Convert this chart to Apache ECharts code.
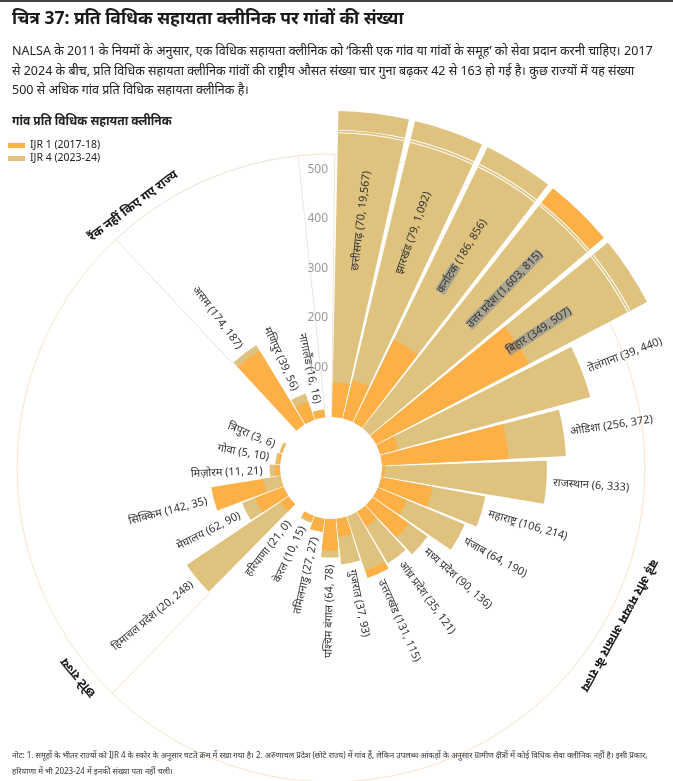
<!DOCTYPE html>
<html><head><meta charset="utf-8">
<script src="https://cdn.jsdelivr.net/npm/echarts@6/dist/echarts.min.js"></script>
<style>html,body{margin:0;padding:0;background:#fff}#c{width:673px;height:781px}</style>
</head><body><div id="c"></div>
<script>
// ---------------- data ----------------
const largeStates = ['छत्तीसगढ़','झारखंड','कर्नाटक','उत्तर प्रदेश','बिहार','तेलंगाना','ओडिशा','राजस्थान','महाराष्ट्र','पंजाब','मध्य प्रदेश','आंध्र प्रदेश','उत्तराखंड','गुजरात','पश्चिम बंगाल','तमिलनाडु','केरल','हरियाणा'];
const largeIJR1 = [70, 79, 186, 1603, 349, 39, 256, 6, 106, 64, 90, 35, 131, 37, 64, 27, 10, 21];
const largeIJR4 = [19567, 1092, 856, 815, 507, 440, 372, 333, 214, 190, 136, 121, 115, 93, 78, 27, 15, 0];
const smallStates = ['हिमाचल प्रदेश','मेघालय','सिक्किम','मिज़ोरम','गोवा','त्रिपुरा'];
const smallIJR1 = [20, 62, 142, 11, 5, 3];
const smallIJR4 = [248, 90, 35, 21, 10, 6];
const unrankedStates = ['असम','मणिपुर','नागालैंड'];
const unrankedIJR1 = [174, 39, 16];
const unrankedIJR4 = [187, 56, 16];
const radiusTicks = [100, 200, 300, 400, 500];
const groupNames = ['बड़े और मध्यम आकार के राज्य', 'छोटे राज्य', 'रैंक नहीं किए गए राज्य'];
const seriesNames = ['IJR 1 (2017-18)', 'IJR 4 (2023-24)'];

// ---------------- style / layout ----------------
const FONT = "'Noto Sans', 'Noto Sans Devanagari', sans-serif";
const C1 = '#FCB045', C4 = '#DEC27E';
const N = 29;                 // angular slots
const OFFSET0 = 0.7, OFFSET1 = 6.4;
const CAP = 500, TOP = 618, BREAK_AT = 580.5, RMAX = 620, RING = 531;
const BRK = [573, 2, 3.5, 2];
const LABEL_GAP = 14, INSIDE_R = 400, GROUP_R = 560;
const HL = 'rgba(125,140,158,0.55)';

function shown(v, other) {
  if (v <= CAP) return v;
  return (other > CAP && v < other) ? BREAK_AT : TOP;
}
function fmt(v) { return v.toLocaleString('en-US'); }

const slots0 = new Array(N).fill(null), slots1 = new Array(N).fill(null);
largeStates.forEach((n, i) => slots0[i] = {name: n, a: largeIJR1[i], b: largeIJR4[i]});
const smallStart = largeStates.length;
smallStates.forEach((n, i) => slots0[smallStart + i] = {name: n, a: smallIJR1[i], b: smallIJR4[i]});
const unrStart = smallStart + smallStates.length + 1;
unrankedStates.forEach((n, i) => slots1[unrStart + i] = {name: n, a: unrankedIJR1[i], b: unrankedIJR4[i]});

const highlight = {'कर्नाटक': 'name', 'उत्तर प्रदेश': 'all', 'बिहार': 'all'};

function barSeries(p, slots) {
  const back1 = [], back4 = [], front1 = [], front4 = [], bBase = [], bW = [], bT = [];
  slots.forEach(s => {
    if (s && s.b > 0) {
      const a = shown(s.a, s.b), b = shown(s.b, s.a);
      if (a > b) { back1.push(a); front4.push(b); back4.push('-'); front1.push('-'); }
      else { back4.push(b); front1.push(a); back1.push('-'); front4.push('-'); }
      const over = Math.max(s.a, s.b) > CAP;
      bBase.push(over ? BRK[0] : '-'); bW.push(over ? BRK[1] : '-'); bT.push(over ? BRK[2] : '-');
    } else {
      [back1, back4, front1, front4, bBase, bW, bT].forEach(arr => arr.push('-'));
    }
  });
  const common = {type: 'bar', coordinateSystem: 'polar', polarIndex: p, barGap: '-100%',
    barCategoryGap: '8%', silent: true, animation: false, z: 2};
  return [
    Object.assign({}, common, {name: seriesNames[0], data: back1, itemStyle: {color: C1}}),
    Object.assign({}, common, {name: seriesNames[1], data: back4, itemStyle: {color: C4}}),
    Object.assign({}, common, {name: seriesNames[0], data: front1, itemStyle: {color: C1}}),
    Object.assign({}, common, {name: seriesNames[1], data: front4, itemStyle: {color: C4}}),
    Object.assign({}, common, {stack: 'brk' + p, data: bBase, itemStyle: {color: 'rgba(0,0,0,0)'}}),
    Object.assign({}, common, {stack: 'brk' + p, data: bW, itemStyle: {color: '#fff'}}),
    Object.assign({}, common, {stack: 'brk' + p, data: bT, itemStyle: {color: 'rgba(0,0,0,0)'}}),
    Object.assign({}, common, {stack: 'brk' + p, data: bW, itemStyle: {color: '#fff'}})
  ];
}

function labelEntries(slots) {
  const out = [];
  slots.forEach((s, k) => {
    if (!s) return;
    const m = s.b > 0 ? Math.max(shown(s.a, s.b), shown(s.b, s.a)) : s.a;
    const inside = Math.max(s.a, s.b) > CAP;
    const nums = '(' + fmt(s.a) + ', ' + fmt(s.b) + ')';
    let text = s.name + ' ' + nums;
    const h = highlight[s.name];
    if (h === 'all') text = '{hl|' + text + '}';
    else if (h === 'name') text = '{hl|' + s.name + '} ' + nums;
    out.push({kind: 'state', k, r: inside ? INSIDE_R : m + LABEL_GAP, inside, text});
  });
  return out;
}

const half = Math.PI / N;
function makeRender(entries) {
  return function (params, api) {
    const e = entries[params.dataIndex];
    const cs = params.coordSys;
    const cx = cs.cx, cy = cs.cy;
    const pp = (v, k) => { const q = api.coord([v, k]); const dx = q[0] - cx, dy = q[1] - cy;
      return {ang: Math.atan2(dy, dx), r: Math.hypot(dx, dy), x: q[0], y: q[1]}; };
    if (e.kind === 'state') {
      const p = pp(e.r, e.k);
      const right = Math.cos(p.ang) >= 0;
      const rot = right ? -p.ang : -p.ang + Math.PI;
      const align = e.inside ? 'center' : (right ? 'left' : 'right');
      return {type: 'text', x: p.x, y: p.y, rotation: rot,
        style: {text: e.text, fill: '#333', fontSize: 11, fontFamily: FONT, align, verticalAlign: 'middle',
          rich: {hl: {backgroundColor: HL, fontSize: 11, fontFamily: FONT, fill: '#333'}}}};
    }
    if (e.kind === 'group') {
      const p = pp(e.r, e.k);
      return {type: 'text', x: p.x, y: p.y, rotation: -p.ang - Math.PI / 2,
        style: {text: e.text, fill: '#1a1a1a', fontSize: 12.5, fontWeight: 'bold', fontFamily: FONT,
          align: 'center', verticalAlign: 'middle'}};
    }
    if (e.kind === 'sep') {
      const p0 = pp(e.from, e.k), p1 = pp(RING, e.k);
      const a = p0.ang + e.side * half;
      return {type: 'line', shape: {x1: cx + p0.r * Math.cos(a), y1: cy + p0.r * Math.sin(a),
        x2: cx + p1.r * Math.cos(a), y2: cy + p1.r * Math.sin(a)},
        style: {stroke: e.color, lineWidth: 1}};
    }
    if (e.kind === 'ring') {
      const p = pp(RING, e.k);
      return {type: 'circle', shape: {cx, cy, r: p.r}, style: {fill: 'none', stroke: e.color, lineWidth: 1}};
    }
    if (e.kind === 'arc') {
      const pa = pp(RING, e.k), pb = pp(RING, e.k2);
      return {type: 'arc', shape: {cx, cy, r: pa.r, startAngle: pa.ang - half, endAngle: pb.ang + half, clockwise: true},
        style: {fill: 'none', stroke: e.color, lineWidth: 1}};
    }
  };
}
function customSeries(p, entries, z) {
  return {type: 'custom', coordinateSystem: 'polar', polarIndex: p, silent: true, animation: false, z,
    data: entries.map(e => [e.r != null ? e.r : 0, e.k]), renderItem: makeRender(entries)};
}

const maxOf = s => Math.max(shown(s.a, s.b), shown(s.b, s.a));
const deco0 = [
  {kind: 'ring', k: 0, color: '#f7e4c9'},
  {kind: 'sep', k: 0, side: -1, from: 0, color: '#f1e6d6'},
  {kind: 'sep', k: smallStart, side: -1, from: maxOf(slots0[smallStart]), color: '#f5dfc2'}
];
const deco1 = [
  {kind: 'arc', k: unrStart, k2: unrStart + unrankedStates.length - 1, color: '#ece9e4'},
  {kind: 'sep', k: unrStart, side: -1, from: maxOf(slots1[unrStart]), color: '#e8e2d6'},
  {kind: 'sep', k: unrStart + unrankedStates.length - 1, side: 1,
    from: maxOf(slots1[unrStart + unrankedStates.length - 1]), color: '#ece7de'}
];
const lab0 = labelEntries(slots0).concat([
  {kind: 'group', k: 9, r: GROUP_R, text: groupNames[0]},
  {kind: 'group', k: smallStart, r: GROUP_R, text: groupNames[1]}
]);
const lab1 = labelEntries(slots1).concat([
  {kind: 'group', k: unrStart, r: GROUP_R, text: groupNames[2]}
]);

const cats = Array.from({length: N}, (_, i) => String(i));
const center = [331, 468], radius = [51, 358];
const hiddenAxis = {axisLine: {show: false}, axisTick: {show: false}, axisLabel: {show: false}, splitLine: {show: false}};

const option = {
  backgroundColor: '#fff',
  animation: false,
  textStyle: {fontFamily: FONT},
  title: [
    {text: 'चित्र 37: प्रति विधिक सहायता क्लीनिक पर गांवों की संख्या', left: 7, top: 5,
      textStyle: {fontSize: 17.5, fontWeight: 'bold', color: '#1a1a1a', fontFamily: FONT}},
    {text: 'NALSA के 2011 के नियमों के अनुसार, एक विधिक सहायता क्लीनिक को ‘किसी एक गांव या गांवों के समूह’ को सेवा प्रदान करनी चाहिए। 2017\nसे 2024 के बीच, प्रति विधिक सहायता क्लीनिक गांवों की राष्ट्रीय औसत संख्या चार गुना बढ़कर 42 से 163 हो गई है। कुछ राज्यों में यह संख्या\n500 से अधिक गांव प्रति विधिक सहायता क्लीनिक है।',
      left: 7, top: 37, textStyle: {fontSize: 12.5, fontWeight: 'normal', color: '#222', lineHeight: 19.5, fontFamily: FONT}},
    {text: 'गांव प्रति विधिक सहायता क्लीनिक', left: 7, top: 111,
      textStyle: {fontSize: 12, fontWeight: 'bold', color: '#222', fontFamily: FONT}},
    {text: 'नोट: 1. समूहों के भीतर राज्यों को IJR 4 के स्कोर के अनुसार घटते क्रम में रखा गया है। 2. अरुणाचल प्रदेश (छोटे राज्य) में गांव हैं, लेकिन उपलब्ध आंकड़ों के अनुसार ग्रामीण क्षेत्रों में कोई विधिक सेवा क्लीनिक नहीं है। इसी प्रकार,\nहरियाणा में भी 2023-24 में इनकी संख्या पता नहीं चली।',
      left: 7, top: 743, textStyle: {fontSize: 8, fontWeight: 'normal', color: '#333', lineHeight: 15.5, fontFamily: FONT}}
  ],
  legend: {data: seriesNames, orient: 'vertical', left: 3, top: 135, icon: 'rect', itemWidth: 17, itemHeight: 5,
    itemGap: 2, selectedMode: false, textStyle: {fontSize: 10.5, color: '#222', fontFamily: FONT}},
  graphic: [{type: 'rect', left: 0, top: 0, shape: {width: 673, height: 2}, style: {fill: '#444'}}],
  polar: [{center, radius}, {center, radius}, {center, radius}],
  angleAxis: [
    Object.assign({polarIndex: 0, type: 'category', data: cats, startAngle: 90 - OFFSET0, clockwise: true}, hiddenAxis),
    Object.assign({polarIndex: 1, type: 'category', data: cats, startAngle: 90 - OFFSET1, clockwise: true}, hiddenAxis),
    Object.assign({polarIndex: 2, type: 'value', min: 0, max: 360, startAngle: 90, clockwise: true}, hiddenAxis)
  ],
  radiusAxis: [
    Object.assign({polarIndex: 0, type: 'value', min: 0, max: RMAX}, hiddenAxis),
    Object.assign({polarIndex: 1, type: 'value', min: 0, max: RMAX}, hiddenAxis),
    {polarIndex: 2, type: 'value', min: 0, max: RMAX, interval: 100, z: 5,
      axisLine: {show: false}, axisTick: {show: false}, splitLine: {show: false},
      axisLabel: {color: '#999', fontSize: 12, fontFamily: FONT, margin: 3,
        formatter: v => radiusTicks.includes(v) ? String(v) : ''}}
  ],
  series: [].concat(
    customSeries(0, deco0, 1),
    customSeries(1, deco1, 1),
    barSeries(0, slots0),
    barSeries(1, slots1),
    customSeries(0, lab0, 3),
    customSeries(1, lab1, 3)
  )
};
const chart = echarts.init(document.getElementById('c'), null, {renderer: 'canvas'});
chart.setOption(option);
</script>
</body></html>
